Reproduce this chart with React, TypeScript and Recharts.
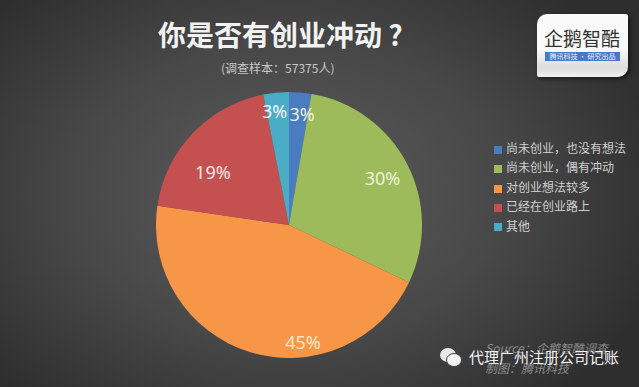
import { Cell, Legend, Pie, PieChart } from 'recharts';

const categories = ['尚未创业\uFF0C也没有想法', '尚未创业\uFF0C偶有冲动', '对创业想法较多', '已经在创业路上', '其他'];
// slice sizes as measured on the picture; the printed labels are rounded differently
const shares = [2.7, 29.4, 45.2, 19.6, 3.1];
const shareLabels = ['3%', '30%', '45%', '19%', '3%'];
const colors = ['#4a7dbf', '#9dbb5b', '#f79646', '#c4504f', '#4bacc6'];
const labelColors = ['#f0f6e4', '#eef3d6', '#fbe6cc', '#f8e4e4', '#f4fafc'];

const data = categories.map((name, i) => ({ name, value: shares[i] }));

// labels were placed by hand in the original, so nudge them off the slice middle
const labelNudge = [
  [4, -5],
  [-1, 2],
  [45, 15],
  [1, 20],
  [-4, -8],
];

function renderLabel(props: any) {
  const { cx, cy, midAngle, outerRadius, index } = props;
  const rad = (midAngle * Math.PI) / 180;
  const r = outerRadius * 0.8;
  const x = cx + r * Math.cos(rad) + labelNudge[index][0];
  const y = cy - r * Math.sin(rad) + labelNudge[index][1];
  return (
    <text x={x} y={y} fill={labelColors[index]} fontSize={18} fontFamily='"Noto Sans", sans-serif' textAnchor="middle" dominantBaseline="central">
      {shareLabels[index]}
    </text>
  );
}

const cjk = '"Noto Sans CJK SC", sans-serif';

export default function App() {
  return (
    <div
      style={{
        position: 'absolute',
        left: 0,
        top: 0,
        width: 639,
        height: 387,
        overflow: 'hidden',
        background: 'radial-gradient(ellipse 62% 70% at 45% 50%, #5c5c5c 0%, #484848 55%, #2e2e2e 100%)',
        fontFamily: cjk,
      }}
    >
      <div style={{ position: 'absolute', left: 158, top: 14, fontSize: 28, fontWeight: 700, color: '#f2f2f2', whiteSpace: 'nowrap' }}>
        你是否有创业冲动 ?
      </div>
      <div style={{ position: 'absolute', left: 221, top: 59, fontSize: 12, color: '#c8c8c8', whiteSpace: 'nowrap' }}>
        (调查样本{'\uFF1A'}57375人)
      </div>

      <PieChart width={639} height={387} margin={{ top: 0, right: 0, bottom: 0, left: 0 }} style={{ position: 'absolute', left: 0, top: 0 }}>
        <Pie
          data={data}
          dataKey="value"
          cx={289}
          cy={225}
          outerRadius={133}
          startAngle={90}
          endAngle={-270}
          stroke="none"
          label={renderLabel}
          labelLine={false}
          isAnimationActive={false}
        >
          {categories.map((name, i) => (
            <Cell key={name} fill={colors[i]} />
          ))}
        </Pie>
        <Legend
          layout="vertical"
          align="center"
          verticalAlign="middle"
          iconType="square"
          iconSize={8}
          itemSorter={null}
          wrapperStyle={{ left: 494, top: 138, width: 145, fontSize: 12, lineHeight: '19.4px', textAlign: 'left' }}
          formatter={(value: string) => <span style={{ color: '#d0d0d0' }}>{value}</span>}
        />
      </PieChart>

      <div style={{ position: 'absolute', left: 537, top: 14, width: 91, height: 63, background: 'linear-gradient(#fafafa 55%, #dcdcdc 85%, #f0f0f0 100%)', borderRadius: '10px 2px 10px 2px', boxShadow: '2px 2px 4px rgba(0,0,0,0.5)' }}>
        <div style={{ position: 'absolute', left: 7, top: 10, fontSize: 19, color: '#333', whiteSpace: 'nowrap' }}>企鹅智酷</div>
        <div style={{ position: 'absolute', left: 8, top: 38, width: 75, height: 9, background: '#4a78c8', color: '#e8eefc', fontSize: 7, lineHeight: '9px', textAlign: 'center', whiteSpace: 'nowrap' }}>
          腾讯科技 · 研究出品
        </div>
      </div>

      <div style={{ position: 'absolute', left: 485, top: 339, fontSize: 12, fontStyle: 'italic', color: '#8c8c8c', whiteSpace: 'nowrap' }}>Source{'\uFF1A'}企鹅智酷调查</div>
      <div style={{ position: 'absolute', left: 485, top: 359, fontSize: 12, fontStyle: 'italic', color: '#8c8c8c', whiteSpace: 'nowrap' }}>制图{'\uFF1A'}腾讯科技</div>

      <svg width={24} height={22} style={{ position: 'absolute', left: 440, top: 347 }}>
        <ellipse cx={8} cy={8} rx={8} ry={7} fill="#e8e8e8" />
        <ellipse cx={14} cy={13} rx={7.5} ry={6.5} fill="#f4f4f4" stroke="#444" strokeWidth={1} />
      </svg>
      <div style={{ position: 'absolute', left: 469, top: 346, fontSize: 15, color: '#f2f2f2', whiteSpace: 'nowrap' }}>代理广州注册公司记账</div>
    </div>
  );
}
